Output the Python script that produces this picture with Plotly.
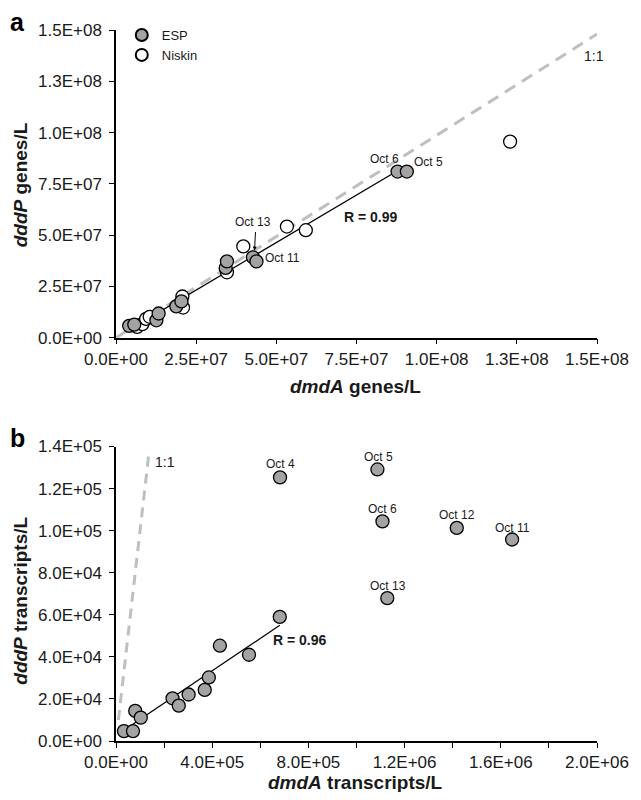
import plotly.graph_objects as go

# ---------------- Panel a data (genes/L) ----------------
esp_a_x = [4.1e6, 5.7e6, 1.26e7, 1.33e7, 1.88e7, 2.04e7, 3.42e7, 3.46e7, 4.27e7, 4.38e7, 8.78e7, 9.07e7]
esp_a_y = [5.8e6, 6.4e6, 8.5e6, 1.18e7, 1.53e7, 1.77e7, 3.40e7, 3.72e7, 3.92e7, 3.72e7, 8.1e7, 8.1e7]
niskin_a_x = [6.6e6, 8.2e6, 9.4e6, 1.05e7, 2.07e7, 2.09e7, 3.46e7, 3.97e7, 5.33e7, 5.92e7, 1.229e8]
niskin_a_y = [5.3e6, 6.6e6, 9.2e6, 1.02e7, 2.01e7, 1.47e7, 3.19e7, 4.45e7, 5.42e7, 5.24e7, 9.56e7]
fit_a_x = [5.0e6, 8.78e7]
fit_a_y = [4.7e6, 8.14e7]
one_a_x = [0, 1.5e8]
one_a_y = [0, 1.48e8]
ticks_a = [0, 2.5e7, 5.0e7, 7.5e7, 1.0e8, 1.25e8, 1.5e8]
ticktext_a = ["0.0E+00", "2.5E+07", "5.0E+07", "7.5E+07", "1.0E+08", "1.3E+08", "1.5E+08"]
labels_a_text = ["Oct 6", "Oct 5", "Oct 11"]
labels_a_x = [8.38e7, 9.76e7, 5.2e7]
labels_a_y = [8.7e7, 8.56e7, 3.88e7]

# ---------------- Panel b data (transcripts/L) ----------------
esp_b_x = [3.3e4, 7.06e4, 8.0e4, 1.03e5, 2.35e5, 2.61e5, 3.02e5, 3.69e5, 3.86e5, 4.32e5, 5.53e5, 6.81e5,
           6.82e5, 1.087e6, 1.108e6, 1.417e6, 1.647e6, 1.128e6]
esp_b_y = [4.7e3, 4.7e3, 1.43e4, 1.11e4, 2.03e4, 1.68e4, 2.21e4, 2.43e4, 3.02e4, 4.53e4, 4.10e4, 5.90e4,
           1.253e5, 1.291e5, 1.044e5, 1.013e5, 9.58e4, 6.79e4]
fit_b_x = [4.2e4, 6.81e5]
fit_b_y = [5.8e3, 5.5e4]
one_b_x = [1.0e4, 1.38e5]
one_b_y = [1.0e4, 1.38e5]
ticks_bx = [0, 2e5, 4e5, 6e5, 8e5, 1.0e6, 1.2e6, 1.4e6, 1.6e6, 1.8e6, 2.0e6]
ticktext_bx = ["0.0E+00", "", "4.0E+05", "", "8.0E+05", "", "1.2E+06", "", "1.6E+06", "", "2.0E+06"]
ticks_by = [0, 2e4, 4e4, 6e4, 8e4, 1.0e5, 1.2e5, 1.4e5]
ticktext_by = ["0.0E+00", "2.0E+04", "4.0E+04", "6.0E+04", "8.0E+04", "1.0E+05", "1.2E+05", "1.4E+05"]
labels_b_text = ["Oct 4", "Oct 5", "Oct 6", "Oct 12", "Oct 11", "Oct 13"]
labels_b_x = [6.82e5, 1.091e6, 1.108e6, 1.417e6, 1.649e6, 1.133e6]
labels_b_y = [1.316e5, 1.352e5, 1.104e5, 1.075e5, 1.013e5, 7.39e4]

FONT = "Liberation Sans, Arial, sans-serif"
GRAY = "#a3a3a3"
DASH = "#bfbfbf"
TXT = "#1a1a1a"

fig = go.Figure()

# Panel a
fig.add_trace(go.Scatter(x=one_a_x, y=one_a_y, mode="lines", showlegend=False, hoverinfo="skip",
                         line=dict(color=DASH, width=3, dash="12px,8px"), xaxis="x", yaxis="y"))
fig.add_trace(go.Scatter(x=fit_a_x, y=fit_a_y, mode="lines", showlegend=False, hoverinfo="skip",
                         line=dict(color="black", width=1.3), xaxis="x", yaxis="y"))
fig.add_trace(go.Scatter(x=niskin_a_x, y=niskin_a_y, mode="markers", name="Niskin", legendrank=2,
                         marker=dict(size=13, color="white", line=dict(color="black", width=1.3)),
                         cliponaxis=False, xaxis="x", yaxis="y"))
fig.add_trace(go.Scatter(x=esp_a_x, y=esp_a_y, mode="markers", name="ESP", legendrank=1,
                         marker=dict(size=13, color=GRAY, line=dict(color="black", width=1.3)),
                         cliponaxis=False, xaxis="x", yaxis="y"))

# Panel b
fig.add_trace(go.Scatter(x=one_b_x, y=one_b_y, mode="lines", showlegend=False, hoverinfo="skip",
                         line=dict(color=DASH, width=3, dash="10px,7px"), xaxis="x2", yaxis="y2"))
fig.add_trace(go.Scatter(x=fit_b_x, y=fit_b_y, mode="lines", showlegend=False, hoverinfo="skip",
                         line=dict(color="black", width=1.3), xaxis="x2", yaxis="y2"))
fig.add_trace(go.Scatter(x=esp_b_x, y=esp_b_y, mode="markers", showlegend=False,
                         marker=dict(size=13, color=GRAY, line=dict(color="black", width=1.3)),
                         cliponaxis=False, xaxis="x2", yaxis="y2"))

axis_common = dict(showline=True, linecolor="black", linewidth=1.5, ticks="outside", ticklen=5,
                   tickcolor="black", tickwidth=1.3, showgrid=False, zeroline=False,
                   tickfont=dict(family=FONT, size=17, color=TXT), tickmode="array",
                   ticklabeloverflow="allow")

ann = []
for t, x, y in zip(labels_a_text, labels_a_x, labels_a_y):
    ann.append(dict(text=t, x=x, y=y, xref="x", yref="y", showarrow=False,
                    font=dict(family=FONT, size=12, color=TXT)))
ann.append(dict(text="Oct 13", x=4.26e7, y=5.66e7, xref="x", yref="y", showarrow=False,
                font=dict(family=FONT, size=12, color=TXT)))
ann.append(dict(text="", x=4.32e7, y=4.25e7, xref="x", yref="y", showarrow=True, ax=1, ay=-20,
                arrowhead=2, arrowsize=0.8, arrowwidth=1, arrowcolor="black"))
ann.append(dict(text="<b>R = 0.99</b>", x=7.04e7, y=5.9e7, xref="x", yref="y", showarrow=False,
                xanchor="left", font=dict(family=FONT, size=14, color=TXT)))
ann.append(dict(text="1:1", x=1.49e8, y=1.375e8, xref="x", yref="y", showarrow=False,
                font=dict(family=FONT, size=14, color=TXT)))
for t, x, y in zip(labels_b_text, labels_b_x, labels_b_y):
    ann.append(dict(text=t, x=x, y=y, xref="x2", yref="y2", showarrow=False,
                    font=dict(family=FONT, size=12, color=TXT)))
ann.append(dict(text="<b>R = 0.96</b>", x=6.45e5, y=4.78e4, xref="x2", yref="y2", showarrow=False,
                xanchor="left", font=dict(family=FONT, size=14, color=TXT)))
ann.append(dict(text="1:1", x=2.02e5, y=1.324e5, xref="x2", yref="y2", showarrow=False,
                font=dict(family=FONT, size=14, color=TXT)))

# axis titles and panel letters (paper coordinates, centred)
title_font = dict(family=FONT, size=19, color=TXT)
c = dict(xref="paper", yref="paper", showarrow=False, xanchor="center", yanchor="middle")
ann += [
    dict(text="<b><i>dmdA</i> genes/L</b>", x=0.498, y=0.4979, font=title_font, **c),
    dict(text="<b><i>dddP</i> genes/L</b>", x=-0.1984, y=0.7824, textangle=-90, font=title_font, **c),
    dict(text="<b><i>dmdA</i> transcripts/L</b>", x=0.498, y=-0.0586, font=title_font, **c),
    dict(text="<b><i>dddP</i> transcripts/L</b>", x=-0.1984, y=0.1967, textangle=-90, font=title_font, **c),
    dict(text="<b>a</b>", x=-0.2045, y=1.0112, font=dict(family=FONT, size=25, color="black"), **c),
    dict(text="<b>b</b>", x=-0.2045, y=0.4268, font=dict(family=FONT, size=25, color="black"), **c),
]

# figure is offset by the page's 8px body margin, so it is 8px smaller than the window
fig.update_layout(
    width=633, height=784,
    margin=dict(l=108, r=31, t=16, b=51),
    paper_bgcolor="white", plot_bgcolor="white",
    font=dict(family=FONT, color=TXT),
    xaxis=dict(domain=[0, 1], anchor="y", range=[0, 1.5e8], tickvals=ticks_a, ticktext=ticktext_a,
               **axis_common),
    yaxis=dict(domain=[0.5672, 1], anchor="x", range=[0, 1.5e8], tickvals=ticks_a, ticktext=ticktext_a,
               ticklabelstandoff=4, **axis_common),
    xaxis2=dict(domain=[0, 1], anchor="y2", range=[0, 2.0e6], tickvals=ticks_bx, ticktext=ticktext_bx,
                **axis_common),
    yaxis2=dict(domain=[0, 0.4142], anchor="x2", range=[0, 1.4e5], tickvals=ticks_by, ticktext=ticktext_by,
                ticklabelstandoff=4, **axis_common),
    legend=dict(x=0.012, y=1.014, xanchor="left", yanchor="top", bgcolor="rgba(0,0,0,0)",
                font=dict(family=FONT, size=13, color=TXT), tracegroupgap=0, itemsizing="constant"),
    annotations=ann,
    showlegend=True,
)

fig.write_html("out.html")
